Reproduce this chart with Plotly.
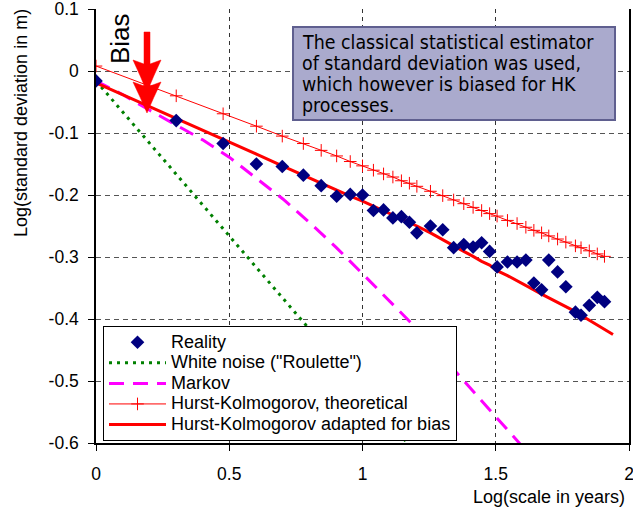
import plotly.graph_objects as go

# ---------------- data ----------------
reality_x = [0.0, 0.301, 0.477, 0.602, 0.699, 0.778, 0.845, 0.903, 0.954, 1.0,
             1.041, 1.079, 1.114, 1.146, 1.176, 1.204, 1.255, 1.301, 1.342, 1.380,
             1.415, 1.447, 1.477, 1.505, 1.544, 1.580, 1.613, 1.643, 1.672, 1.699,
             1.732, 1.763, 1.799, 1.820, 1.851, 1.881, 1.908]
reality_y = [-0.016, -0.080, -0.117, -0.150, -0.154, -0.168, -0.185, -0.202, -0.199, -0.200,
             -0.225, -0.224, -0.237, -0.235, -0.244, -0.261, -0.250, -0.256, -0.285, -0.280,
             -0.284, -0.277, -0.291, -0.316, -0.308, -0.308, -0.305, -0.342, -0.353, -0.305,
             -0.324, -0.348, -0.389, -0.394, -0.378, -0.365, -0.372]

white_x = [0.0, 0.5, 1.0, 1.2]
white_y = [-0.016, -0.266, -0.516, -0.616]

markov_x = [0.0, 0.1, 0.2, 0.3, 0.4, 0.5, 0.6, 0.7, 0.8, 0.9, 1.0, 1.1, 1.2, 1.3, 1.4, 1.5, 1.6, 1.7]
markov_y = [-0.016, -0.038, -0.063, -0.087, -0.111, -0.139, -0.172, -0.206, -0.244, -0.284,
            -0.327, -0.370, -0.414, -0.461, -0.509, -0.557, -0.605, -0.654]

hk_theo_x = [0.0, 0.2, 0.301, 0.477, 0.602, 0.699, 0.778, 0.845, 0.903, 0.954, 1.0,
             1.041, 1.079, 1.114, 1.146, 1.176, 1.204, 1.255, 1.301, 1.342, 1.380,
             1.415, 1.447, 1.477, 1.505, 1.544, 1.580, 1.613, 1.643, 1.672, 1.699,
             1.732, 1.763, 1.799, 1.820, 1.851, 1.881, 1.908]
hk_theo_y = [0.008, -0.024, -0.040, -0.069, -0.089, -0.105, -0.117, -0.128, -0.137, -0.146, -0.153,
             -0.160, -0.166, -0.171, -0.177, -0.181, -0.186, -0.194, -0.201, -0.208, -0.214,
             -0.220, -0.225, -0.230, -0.234, -0.241, -0.246, -0.252, -0.257, -0.261, -0.266,
             -0.271, -0.276, -0.282, -0.285, -0.290, -0.295, -0.299]

hk_adj_x = [0.0, 0.301, 0.477, 0.602, 0.699, 0.778, 0.845, 0.903, 0.954, 1.0,
            1.041, 1.079, 1.114, 1.146, 1.176, 1.204, 1.255, 1.301, 1.342, 1.380,
            1.415, 1.447, 1.477, 1.505, 1.544, 1.580, 1.613, 1.643, 1.672, 1.699,
            1.732, 1.763, 1.799, 1.820, 1.851, 1.881, 1.908, 1.940]
hk_adj_y = [-0.019, -0.076, -0.110, -0.134, -0.153, -0.168, -0.181, -0.193, -0.202, -0.210,
            -0.218, -0.225, -0.232, -0.238, -0.244, -0.250, -0.261, -0.272, -0.283, -0.291,
            -0.299, -0.307, -0.313, -0.322, -0.330, -0.338, -0.346, -0.353, -0.360, -0.366,
            -0.373, -0.380, -0.388, -0.394, -0.402, -0.410, -0.417, -0.425]

x_ticks = [0, 0.5, 1, 1.5, 2]
x_tick_text = ["0", "0.5", "1", "1.5", "2"]
y_ticks = [0.1, 0, -0.1, -0.2, -0.3, -0.4, -0.5, -0.6]
y_tick_text = ["0.1", "0", "-0.1", "-0.2", "-0.3", "-0.4", "-0.5", "-0.6"]

note_lines = ["The classical statistical estimator",
              "of standard deviation was used,",
              "which however is biased for HK",
              "processes."]

# ---------------- figure ----------------
W, H = 633, 513
L, R, T, B = 96, 4, 9, 70
X0, X1, Y0, Y1 = 0, 2, -0.6, 0.1
pw, ph = W - L - R, H - T - B
SANS = "Arial, Liberation Sans"

def px2x(px):
    return X0 + (px - L) / pw * (X1 - X0)

def py2y(py):
    return Y1 - (py - T) / ph * (Y1 - Y0)

def ppx(px):
    return (px - L) / pw

def ppy(py):
    return (H - B - py) / ph

def pt(a, b):
    return f"{px2x(a):.5f},{py2y(b):.5f}"

def lg(name):
    return f'<span style="font-size:18px">{name}</span>'

fig = go.Figure()

fig.add_trace(go.Scatter(x=white_x, y=white_y, mode="lines", name=lg('White noise ("Roulette")'),
                         line=dict(color="#008000", width=3, dash="3px,5px"), legendrank=2))
fig.add_trace(go.Scatter(x=markov_x, y=markov_y, mode="lines", name=lg("Markov"),
                         line=dict(color="#ff00ff", width=3, dash="15px,9px"), legendrank=3))
fig.add_trace(go.Scatter(x=hk_theo_x, y=hk_theo_y, mode="lines+markers",
                         name=lg("Hurst-Kolmogorov, theoretical"),
                         line=dict(color="#ff0000", width=1),
                         marker=dict(symbol="cross-thin", size=9, line=dict(color="#ff0000", width=1)),
                         legendrank=4))
fig.add_trace(go.Scatter(x=hk_adj_x, y=hk_adj_y, mode="lines",
                         name=lg("Hurst-Kolmogorov adapted for bias"),
                         line=dict(color="#ff0000", width=3), legendrank=5))
fig.add_trace(go.Scatter(x=reality_x, y=reality_y, mode="markers", name=lg("Reality"),
                         marker=dict(symbol="diamond", size=10.5, color="#000080"), legendrank=1))

# Bias arrow: shaft + two stacked, slightly concave heads (pixel geometry -> data units)
def head(top, tip):
    mid = (top + tip) / 2
    return (f"M{pt(144, top + 4)} L{pt(133, top)} Q{pt(140.5, mid)} {pt(147, tip)} "
            f"Q{pt(153.5, mid)} {pt(161, top)} L{pt(150, top + 4)} Z")

shaft = f"M{pt(144, 32)} L{pt(150, 32)} L{pt(150, 68)} L{pt(144, 68)} Z"
for path in (shaft, head(60, 92), head(82, 113)):
    fig.add_shape(type="path", path=path, xref="x", yref="y",
                  fillcolor="#ff0000", line=dict(color="#ff0000", width=0.5), layer="above")

fig.add_annotation(text="Bias", textangle=-90, xref="paper", yref="paper",
                   x=ppx(120), y=ppy(39), xanchor="center", yanchor="middle", showarrow=False,
                   font=dict(family=SANS, size=26, color="black"))

# note box
fig.add_shape(type="rect", xref="paper", yref="paper",
              x0=ppx(293), x1=ppx(615), y0=ppy(120), y1=ppy(27),
              fillcolor="#aaaacd", line=dict(color="#5f5f8f", width=2), layer="above")
for i, line_txt in enumerate(note_lines):
    fig.add_annotation(text=line_txt, xref="paper", yref="paper",
                       x=ppx(300), y=ppy(42.5 + 21.1 * i), xanchor="left", yanchor="middle",
                       showarrow=False, align="left",
                       font=dict(family="DejaVu Sans Condensed, DejaVu Sans", size=19.4, color="black"))

fig.add_annotation(text="Log(standard deviation in m)", textangle=-90, xref="paper", yref="paper",
                   x=ppx(20.5), y=ppy(123.5), xanchor="center", yanchor="middle", showarrow=False,
                   font=dict(family=SANS, size=18, color="black"))
fig.add_annotation(text="Log(scale in years)", xref="paper", yref="paper",
                   x=ppx(627), y=ppy(497), xanchor="right", yanchor="middle", showarrow=False,
                   font=dict(family=SANS, size=18, color="black"))

fig.update_layout(
    width=W, height=H,
    margin=dict(l=L, r=R, t=T, b=B, autoexpand=False),
    paper_bgcolor="white", plot_bgcolor="white",
    font=dict(family=SANS, size=17.5, color="black"),
    showlegend=True,
    legend=dict(x=ppx(103), y=ppy(326), xanchor="left", yanchor="top",
                bgcolor="white", bordercolor="black", borderwidth=1,
                font=dict(family=SANS, size=13.5), itemwidth=57, tracegroupgap=0),
    xaxis=dict(range=[X0, X1], tickvals=x_ticks, ticktext=x_tick_text, automargin=False,
               showgrid=True, gridcolor="#333333", griddash="4px,4px", gridwidth=1,
               showline=True, linecolor="black", linewidth=1.5, mirror=False,
               ticks="outside", ticklen=6, tickcolor="black", zeroline=False,
               ticklabelstandoff=8, ticklabeloverflow="allow"),
    yaxis=dict(range=[Y0, Y1], tickvals=y_ticks, ticktext=y_tick_text, automargin=False,
               showgrid=True, gridcolor="#555555", griddash="5px,4px", gridwidth=1,
               showline=True, linecolor="black", linewidth=1.5, mirror=True,
               ticks="outside", ticklen=6, tickcolor="black", zeroline=False,
               ticklabelstandoff=6, ticklabeloverflow="allow"),
)

fig.write_html("out.html", config={"displayModeBar": False},
               post_script="document.body.style.margin='0px';")
